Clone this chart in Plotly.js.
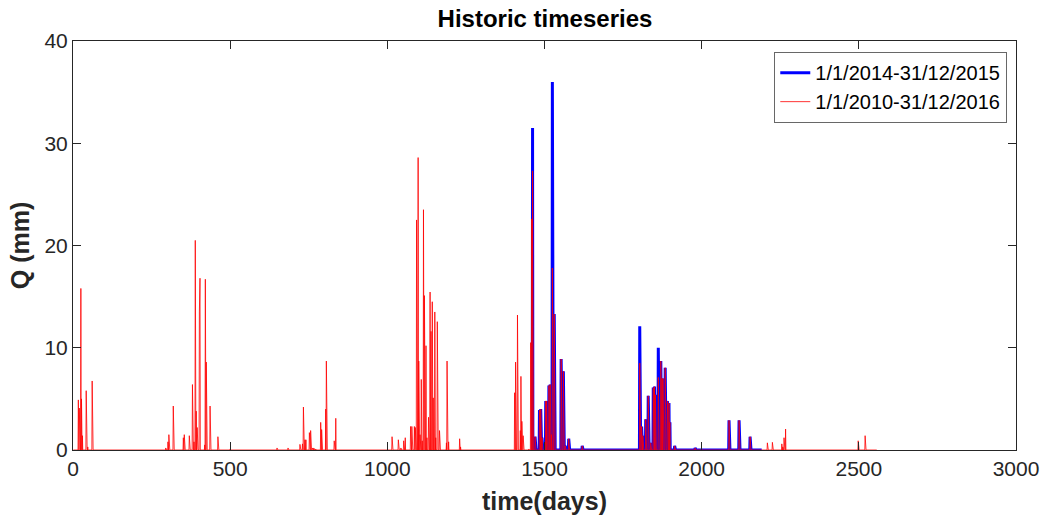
<!DOCTYPE html>
<html>
<head>
<meta charset="utf-8">
<script src="https://cdn.plot.ly/plotly-3.0.1.min.js"></script>
<style>html,body{margin:0;padding:0;background:#fff;}#chart{width:1048px;height:524px;}</style>
</head>
<body>
<div id="chart"></div>
<script>
// Daily record ranges (day numbers)
const redStart = 1, redEnd = 2557;     // 1/1/2010 - 31/12/2016
const blueStart = 1461, blueEnd = 2191; // 1/1/2014 - 31/12/2015

// Non-zero discharge events (day, Q in mm); all other days are 0
const redEventDays = [17,20,22,25,27,30,42,47,61,295,302,305,319,351,354,370,372,380,382,385,389,392,395,402,404,419,421,424,436,461,500,649,684,722,730,733,738,741,752,756,762,766,772,788,791,804,806,831,836,1015,1035,1043,1052,1057,1074,1078,1086,1089,1093,1098,1100,1104,1108,1111,1115,1118,1120,1123,1126,1131,1136,1139,1143,1146,1151,1154,1159,1166,1188,1190,1195,1230,1233,1405,1408,1414,1416,1423,1425,1428,1432,1450,1456,1459,
  1462,1470,1484,1488,1492,1504,1507,1514,1518,1522,1525,1531,1553,1560,1566,1577,1579,1620,1803,1809,1813,1822,1830,1832,1838,1846,1850,1853,1855,1862,1864,1870,1874,1877,1884,1886,1891,1896,1899,1914,1979,2087,2089,2119,2121,2154,2156,
  2209,2225,2255,2258,2262,2267,2498,2520];
const redEventQ = [4.9,4.1,3.0,15.8,5.0,1.4,5.8,0.3,6.75,0.2,0.8,1.5,4.3,1.2,1.5,1.4,0.5,6.4,1.4,0.8,20.5,3.8,2.2,13.5,16.8,0.5,16.7,8.6,4.3,1.3,0.1,0.2,0.2,0.55,0.6,4.2,1.0,1.0,1.7,1.9,0.2,0.2,0.1,2.7,2.0,4.0,8.7,0.9,3.1,1.3,1.0,0.2,0.9,1.2,2.3,2.3,2.3,2.2,22.5,28.6,8.7,1.5,6.9,0.9,23.5,15.1,9.4,10.2,1.2,3.2,15.45,11.6,14.5,5.1,13.5,1.2,12.55,1.9,0.7,8.7,0.8,1.1,0.3,5.6,8.6,13.2,0.8,1.9,7.2,2.8,1.4,0.1,10.5,22.6,
  27.3,1.3,3.9,4.0,1.2,4.8,4.8,6.3,6.4,1.5,17.8,13.3,8.9,7.7,0.4,1.1,1.1,0.4,8.5,2.3,1.4,3.0,5.3,5.2,0.7,6.1,6.2,5.4,1.9,7.1,7.1,8.7,7.0,7.0,8.05,8.0,4.8,4.6,2.7,0.4,0.2,2.9,2.0,2.9,1.6,1.3,1.2,
  0.7,0.75,0.6,0.3,1.2,2.05,0.9,1.4];

const blueEventDays = [1462,1470,1484,1488,1492,1504,1507,1514,1518,1522,1525,1531,1553,1560,1566,1577,1579,1620,1803,1809,1813,1822,1830,1832,1838,1846,1850,1853,1855,1862,1864,1870,1874,1877,1884,1886,1891,1896,1899,1914,1979,2087,2089,2119,2121,2154,2156];
const blueEventQ = [31.5,1.3,3.9,4.0,1.2,4.8,4.8,6.3,6.4,1.5,36.0,13.3,8.9,7.7,0.4,1.1,1.1,0.4,12.1,2.3,1.4,3.0,5.3,5.2,0.7,6.1,6.2,5.4,1.9,10.0,10.0,8.7,7.0,7.0,8.05,8.0,4.8,4.6,2.7,0.4,0.2,2.9,2.0,2.9,1.6,1.3,1.2];

const seriesNames = ['1/1/2014-31/12/2015', '1/1/2010-31/12/2016'];
const xTicks = [0,500,1000,1500,2000,2500,3000];
const yTicks = [0,10,20,30,40];

function dailySeries(start, end, days, q) {
  const map = new Map();
  days.forEach((d, i) => map.set(d, q[i]));
  const x = [], y = [];
  for (let d = start; d <= end; d++) { x.push(d); y.push(map.has(d) ? map.get(d) : 0); }
  return {x, y};
}
const red = dailySeries(redStart, redEnd, redEventDays, redEventQ);
const blue = dailySeries(blueStart, blueEnd, blueEventDays, blueEventQ);

const axisColor = '#262626';
const font = 'Liberation Sans, Arial, Helvetica, sans-serif';

const traces = [
  {x: blue.x, y: blue.y, type: 'scatter', mode: 'lines', name: seriesNames[0],
   line: {color: '#0000ff', width: 3}},
  {x: red.x, y: red.y, type: 'scatter', mode: 'lines', name: seriesNames[1],
   line: {color: '#ff0000', width: 0.8}}
];

const layout = {
  width: 1048, height: 524,
  margin: {l: 73, r: 32, t: 41, b: 74},
  paper_bgcolor: '#ffffff', plot_bgcolor: '#ffffff',
  font: {family: font, color: axisColor, size: 20},
  title: {text: 'Historic timeseries', x: 0.52, xanchor: 'center', y: 0.965, yanchor: 'middle',
          font: {family: font, size: 24, color: '#000000', weight: 'bold'}},
  showlegend: true,
  legend: {x: 0.99, xanchor: 'right', y: 0.972, yanchor: 'top',
           bgcolor: '#ffffff', bordercolor: axisColor, borderwidth: 0.7,
           font: {family: font, size: 20, color: '#000000'}, tracegroupgap: 0, itemwidth: 30},
  xaxis: {range: [0, 3000], tickvals: xTicks, ticktext: xTicks.map(String),
          ticks: 'inside', ticklen: 8, tickwidth: 1, tickcolor: axisColor,
          showline: true, linecolor: axisColor, linewidth: 1, mirror: 'ticks',
          showgrid: false, zeroline: false,
          tickfont: {family: font, size: 21, color: axisColor},
          title: {text: 'time(days)', standoff: 13, font: {family: font, size: 25, color: axisColor, weight: 'bold'}}},
  yaxis: {range: [0, 40], tickvals: yTicks, ticktext: yTicks.map(String),
          ticks: 'inside', ticklen: 8, tickwidth: 1, tickcolor: axisColor,
          showline: true, linecolor: axisColor, linewidth: 1, mirror: 'ticks',
          showgrid: false, zeroline: false,
          tickfont: {family: font, size: 21, color: axisColor},
          title: {text: 'Q (mm)', standoff: 7, font: {family: font, size: 25, color: axisColor, weight: 'bold'}}}
};

Plotly.newPlot('chart', traces, layout, {displayModeBar: false, staticPlot: true});
</script>
</body>
</html>
